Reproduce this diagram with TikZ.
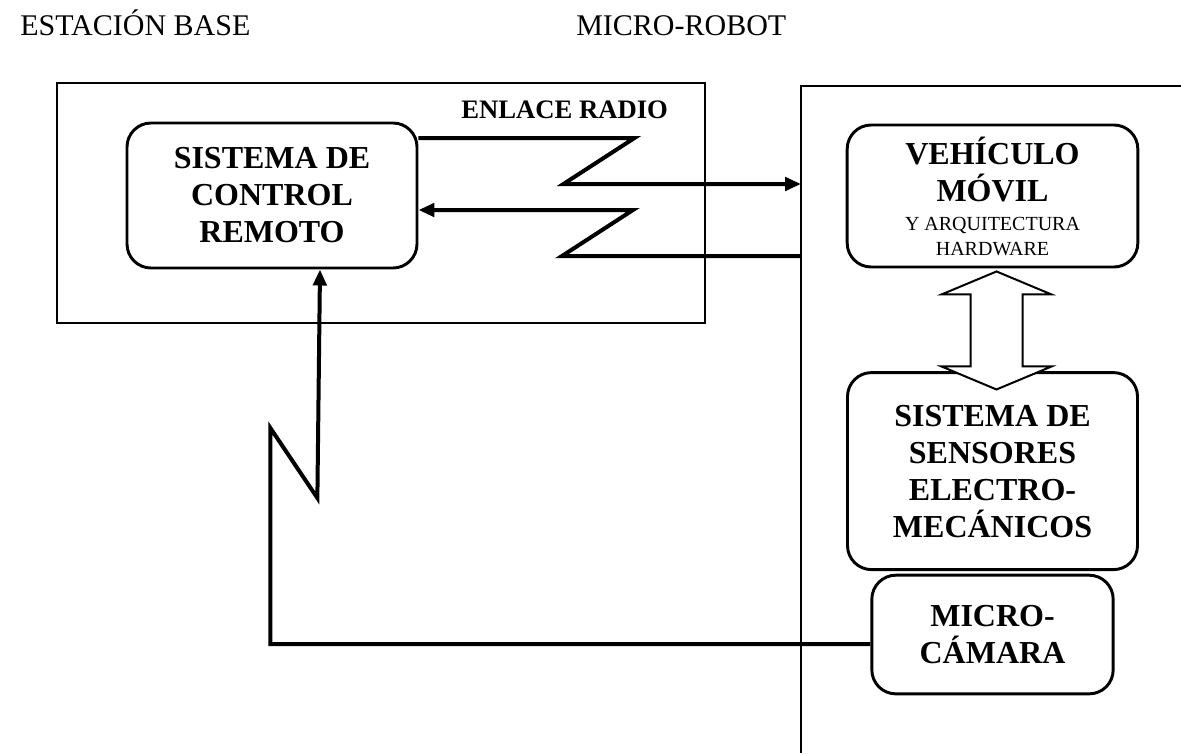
\documentclass[tikz,border=0pt]{standalone}
\usepackage{fontspec}
\setmainfont{Liberation Serif}
\usetikzlibrary{arrows.meta, positioning}

\newcommand{\hwfont}{\fontsize{15}{18}\selectfont\mdseries}

\begin{document}
\begin{tikzpicture}[
  x=0.75pt, y=-0.75pt, font=\fontsize{22.5}{27}\selectfont,
  frame/.style ={line width=1.2pt},
  title/.style ={anchor=base west, inner sep=0pt},
  block/.style ={draw, line width=2.2pt, rounded corners=18pt, align=center,
                 font=\fontsize{24}{27.75}\selectfont\bfseries},
  link/.style  ={line width=3pt, -{Triangle[length=12pt,width=10pt]}},
  hollow/.style={line width=1.5pt, fill=white},
]
  \useasboundingbox (0,0) rectangle (1181,753);

  % the two sides
  \draw[frame] (57,83) rectangle (705,323);
  \draw[frame] (801,753) |- (1181,86);
  \node[title] (est) at (20,36)  {ESTACIÓN BASE};
  \node[title] (mr)  at (576,36) {MICRO-ROBOT};
  \node[title, font=\fontsize{20}{24}\selectfont\bfseries] (radio) at (461,118) {ENLACE RADIO};

  \node[block, minimum width=217.5pt, minimum height=108.75pt] (ctrl) at (272,195.5)
       {SISTEMA DE\\CONTROL\\REMOTO};
  \node[block, minimum width=218pt, minimum height=106.5pt] (veh) at (992.5,196)
       {VEHÍCULO\\MÓVIL\\[-6pt]\hwfont Y ARQUITECTURA\\[-9pt]\hwfont HARDWARE};
  \node[block, minimum width=217.5pt, minimum height=147.75pt, below=77pt of veh] (sens)
       {SISTEMA DE\\SENSORES\\ELECTRO-\\MECÁNICOS};
  \node[block, minimum width=181pt, minimum height=89pt, below=2pt of sens] (cam)
       {MICRO-\\CÁMARA};

  \coordinate (tx) at (801,184);
  \coordinate (rx) at (801,256);

  % radio links
  \draw[link] (ctrl.east |- 0,138) -- ++(216,0) -- ++(-71,46) -- (tx);
  \draw[link] (rx) -- ++(-239,0) -- ++(71,-46) -- (ctrl.east |- 0,210);
  \draw[link] (cam.west |- 0,644) -- ++(-600,0) -- ++(0,-216) -- ++(47,70)
              -- (ctrl.south -| 320,0);

  % vehicle <-> sensors
  \draw[hollow] (veh.south) ++(4,3) -- ++(55,23) -- ++(-29,0) -- ++(0,72) -- ++(29,0)
                -- ++(-55,23) -- ++(-55,-23) -- ++(29,0) -- ++(0,-72) -- ++(-29,0) -- cycle;
\end{tikzpicture}
\end{document}
